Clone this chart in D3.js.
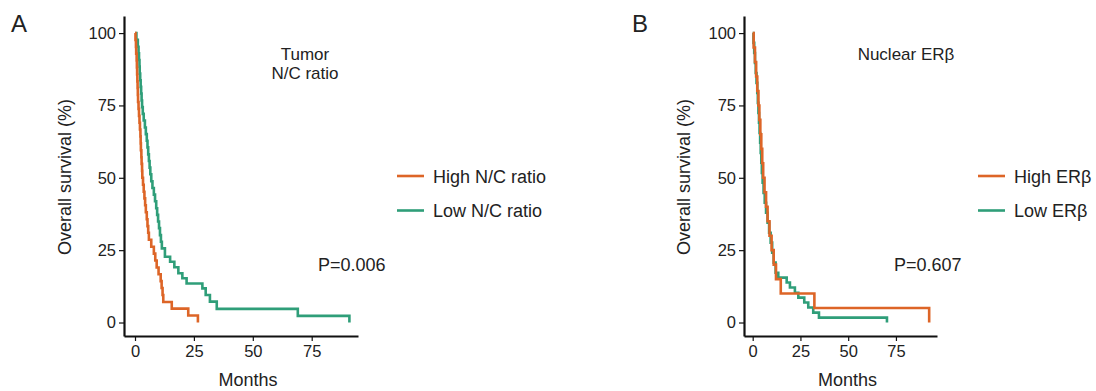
<!DOCTYPE html>
<html>
<head>
<meta charset="utf-8">
<script src="https://cdn.jsdelivr.net/npm/d3@7"></script>
<style>
  body { margin: 0; background: #fff; }
  text { font-family: "Liberation Sans", Arial, sans-serif; fill: #222; }
</style>
</head>
<body>
<div id="chart"></div>
<script>
// Kaplan-Meier step points: [months, survival %]
const highNC = [[0,100],[0.2,97.6],[0.4,95.2],[0.5,92.9],[0.7,90.5],[0.8,88.1],[0.9,85.7],[1.0,83.3],[1.1,81.0],[1.2,78.6],[1.3,76.2],[1.5,73.8],[1.7,71.4],[1.9,69.0],[2.1,66.7],[2.3,64.3],[2.4,61.9],[2.5,59.5],[2.7,57.1],[2.8,54.8],[3.0,52.4],[3.1,50.0],[3.4,47.6],[3.7,45.2],[4.0,42.9],[4.3,40.5],[4.6,38.1],[5.0,35.7],[5.3,33.3],[5.6,31.0],[5.9,28.6],[6.9,26.2],[8.0,23.8],[8.6,21.4],[9.2,19.0],[10.0,16.7],[10.9,14.3],[11.3,11.9],[11.7,9.5],[12.0,7.1],[15.6,4.8],[22.6,2.4],[26.7,0]];
const lowNC = [[0,100],[0.6,97.7],[1.2,95.3],[1.5,93.0],[1.7,90.7],[1.9,88.4],[2.0,86.0],[2.2,83.7],[2.4,81.4],[2.6,79.1],[2.8,76.7],[3.0,74.4],[3.3,72.1],[3.7,69.8],[4.2,67.4],[4.6,65.1],[5.0,62.8],[5.3,60.5],[5.6,58.1],[5.9,55.8],[6.2,53.5],[6.5,51.2],[6.9,48.8],[7.4,46.5],[8.0,44.2],[8.5,41.9],[9.0,39.5],[9.4,37.2],[9.8,34.9],[10.2,32.6],[10.6,30.2],[11.0,27.9],[11.4,25.6],[12.7,22.7],[14.9,21.0],[16.7,19.1],[18.4,17.0],[20.1,15.3],[21.9,13.5],[28.6,11.8],[30.0,9.5],[31.8,7.2],[34.7,4.7],[69.1,2.3],[91.0,0]];
const highER = [[0,100],[0.5,95],[1.2,90],[1.8,85],[2.4,80],[3.0,75],[3.5,70],[4.0,65],[4.5,60],[5.0,55],[5.5,50],[6.2,45],[7.0,40],[7.8,35],[8.8,30],[9.9,25],[11.0,20],[12.2,15],[14.7,10],[32.3,5],[92.4,0]];
const lowER = [[0,100],[0.4,96.6],[0.8,93.1],[1.2,89.7],[1.6,86.2],[2.0,82.8],[2.4,79.3],[2.7,75.9],[3.0,72.4],[3.3,69.0],[3.6,65.5],[3.9,62.1],[4.2,58.6],[4.5,55.2],[4.8,51.7],[5.2,48.3],[5.7,44.8],[6.3,41.4],[7.0,37.9],[7.8,34.5],[8.6,31.0],[9.4,27.6],[10.2,24.1],[11.0,20.7],[12.0,17.2],[13.4,15.5],[17.8,13.8],[19.5,12.1],[22.1,10.3],[23.9,8.6],[27.0,6.9],[29.1,5.2],[31.7,3.4],[34.7,1.7],[70.3,0]];

const xTicks = [0, 25, 50, 75];
const yTicks = [0, 25, 50, 75, 100];
const legendA = ['High N/C ratio', 'Low N/C ratio'];
const legendB = ['High ER\u03b2', 'Low ER\u03b2'];

const ORANGE = '#dd6527';
const GREEN = '#2f9e79';

const svg = d3.select('#chart').append('svg').attr('width', 1096).attr('height', 391);

function panel(o) {
  const x = d3.scaleLinear().domain(o.xDomain).range([o.left, o.right]);
  const y = d3.scaleLinear().domain([-4.66, 105.9]).range([336, 16]);

  const xAxis = svg.append('g')
    .attr('transform', 'translate(0,336)')
    .call(d3.axisBottom(x).tickValues(xTicks).tickSize(5).tickSizeOuter(0).tickPadding(4));
  const yAxis = svg.append('g')
    .attr('transform', 'translate(' + o.left + ',0)')
    .call(d3.axisLeft(y).tickValues(yTicks).tickSize(5).tickSizeOuter(0).tickPadding(3));
  [xAxis, yAxis].forEach(a => {
    a.select('.domain').attr('stroke', '#111').attr('stroke-width', 2.2);
    a.selectAll('.tick line').attr('stroke', '#111').attr('stroke-width', 1.2);
    a.selectAll('.tick text').style('font-size', '16.5px').attr('fill', '#222');
  });

  const line = d3.line().x(d => x(d[0])).y(d => y(d[1])).curve(d3.curveStepAfter);
  svg.append('path').datum(o.green).attr('d', line)
    .attr('fill', 'none').attr('stroke', GREEN).attr('stroke-width', 2.6);
  svg.append('path').datum(o.orange).attr('d', line)
    .attr('fill', 'none').attr('stroke', ORANGE).attr('stroke-width', 2.6);

  svg.append('text').attr('x', o.letterX).attr('y', 32).style('font-size', '24px').text(o.letter);

  svg.append('text')
    .attr('transform', 'translate(' + o.yLabelX + ',177) rotate(-90)')
    .attr('text-anchor', 'middle').style('font-size', '18px').text('Overall survival (%)');
  svg.append('text').attr('x', (o.left + o.right) / 2 + 7).attr('y', 386)
    .attr('text-anchor', 'middle').style('font-size', '18px').text('Months');

  o.title.forEach((t, i) => svg.append('text').attr('text-anchor', 'middle').style('font-size', '17px')
    .attr('x', o.titleX).attr('y', 60 + i * 19).text(t));

  svg.append('text').attr('x', o.pX).attr('y', 271).style('font-size', '18px').text(o.p);

  [ORANGE, GREEN].forEach((c, i) => {
    const ly = 176 + i * 34.5;
    svg.append('line').attr('x1', o.legX).attr('x2', o.legX + 27).attr('y1', ly).attr('y2', ly)
      .attr('stroke', c).attr('stroke-width', 2.6);
    svg.append('text').attr('x', o.legX + 36).attr('y', ly + 6.5).style('font-size', '18px').text(o.legend[i]);
  });
}

panel({
  letter: 'A', letterX: 11, left: 124, right: 358, xDomain: [-4.67, 94.65],
  orange: highNC, green: lowNC, yLabelX: 71,
  title: ['Tumor', 'N/C ratio'], titleX: 305, p: 'P=0.006', pX: 318,
  legend: legendA, legX: 397
});
panel({
  letter: 'B', letterX: 632, left: 744, right: 937, xDomain: [-4.55, 96.5],
  orange: highER, green: lowER, yLabelX: 690,
  title: ['Nuclear ER\u03b2'], titleX: 906, p: 'P=0.607', pX: 894,
  legend: legendB, legX: 978
});
</script>
</body>
</html>
